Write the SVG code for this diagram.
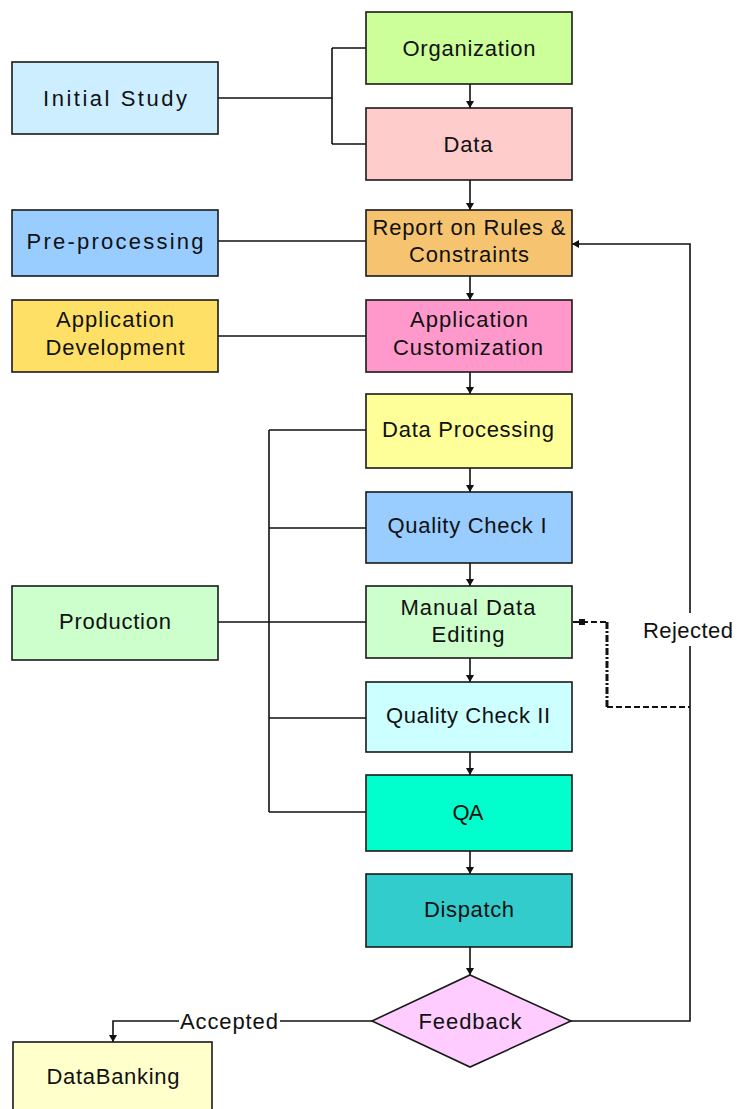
<svg xmlns="http://www.w3.org/2000/svg" width="737" height="1109" viewBox="0 0 737 1109">
<style>
.box{stroke:#1a1a1a;stroke-width:1.6}
.t{font-family:"Liberation Sans",Arial,sans-serif;font-size:22px;fill:#111;text-anchor:middle}
.ln{fill:none;stroke:#111;stroke-width:1.6}
.dash{fill:none;stroke:#111;stroke-width:1.8;stroke-dasharray:6,3}
</style>
<defs>
<marker id="ah" markerUnits="userSpaceOnUse" markerWidth="10" markerHeight="10" refX="7" refY="5" orient="auto">
<path d="M0,1 L7,5 L0,9 Z" fill="#111"/>
</marker>
</defs>
<rect width="737" height="1109" fill="#fff"/>

<g id="connectors">
<path class="ln" d="M218,98 H332 M332,48 V144 M332,48 H366 M332,144 H366"/>
<path class="ln" d="M218,241 H366"/>
<path class="ln" d="M218,336 H366"/>
<path class="ln" d="M218,622 H366 M269,430 V812 M269,430 H366 M269,528 H366 M269,718 H366 M269,812 H366"/>
<path class="ln" marker-end="url(#ah)" d="M470,84 V108"/>
<path class="ln" marker-end="url(#ah)" d="M470,180 V210"/>
<path class="ln" marker-end="url(#ah)" d="M470,276 V300"/>
<path class="ln" marker-end="url(#ah)" d="M470,372 V394"/>
<path class="ln" marker-end="url(#ah)" d="M470,468 V492"/>
<path class="ln" marker-end="url(#ah)" d="M470,563 V586"/>
<path class="ln" marker-end="url(#ah)" d="M470,658 V682"/>
<path class="ln" marker-end="url(#ah)" d="M470,752 V775"/>
<path class="ln" marker-end="url(#ah)" d="M470,851 V874"/>
<path class="ln" marker-end="url(#ah)" d="M470,947 V975"/>
<path class="ln" d="M571,1021 H690 V646"/>
<path class="ln" marker-end="url(#ah)" d="M690,613 V244 H572"/>
<text class="t" x="688" y="638" textLength="90" lengthAdjust="spacing">Rejected</text>
<path class="ln" d="M372,1021 H280"/>
<path class="ln" marker-end="url(#ah)" d="M179,1021 H113 V1042"/>
<text class="t" x="229" y="1029" textLength="98" lengthAdjust="spacing">Accepted</text>
<rect x="579" y="619" width="6" height="6" fill="#111"/>
<path class="dash" d="M573,622 H607"/>
<path fill="none" stroke="#111" stroke-width="3" stroke-dasharray="7,2,2,2" d="M607,622 V707"/>
<path class="dash" d="M607,707 H690"/>
</g>

<g id="organization"><rect class="box" x="366" y="12" width="206" height="72" fill="#CCFF99"/><text class="t" x="469" y="56" textLength="133" lengthAdjust="spacing">Organization</text></g>
<g id="data"><rect class="box" x="366" y="108" width="206" height="72" fill="#FFCCCC"/><text class="t" x="468" y="152" textLength="49" lengthAdjust="spacing">Data</text></g>
<g id="initial-study"><rect class="box" x="12" y="62" width="206" height="72" fill="#CCEEFF"/><text class="t" x="115" y="106" textLength="144" lengthAdjust="spacing">Initial Study</text></g>
<g id="pre-processing"><rect class="box" x="12" y="210" width="206" height="66" fill="#99CCFF"/><text class="t" x="115" y="249" textLength="177" lengthAdjust="spacing">Pre-processing</text></g>
<g id="report"><rect class="box" x="366" y="210" width="206" height="66" fill="#F6C470"/><text class="t" x="469" y="235" textLength="193" lengthAdjust="spacing">Report on Rules &amp;</text><text class="t" x="469" y="262" textLength="120" lengthAdjust="spacing">Constraints</text></g>
<g id="application-development"><rect class="box" x="12" y="300" width="206" height="72" fill="#FFE066"/><text class="t" x="115" y="327" textLength="118" lengthAdjust="spacing">Application</text><text class="t" x="115" y="355" textLength="139" lengthAdjust="spacing">Development</text></g>
<g id="application-customization"><rect class="box" x="366" y="300" width="206" height="72" fill="#FF99CC"/><text class="t" x="469" y="327" textLength="118" lengthAdjust="spacing">Application</text><text class="t" x="468" y="355" textLength="150" lengthAdjust="spacing">Customization</text></g>
<g id="data-processing"><rect class="box" x="366" y="394" width="206" height="74" fill="#FFFF99"/><text class="t" x="468" y="437" textLength="172" lengthAdjust="spacing">Data Processing</text></g>
<g id="quality-check-1"><rect class="box" x="366" y="492" width="206" height="71" fill="#99CCFF"/><text class="t" x="467" y="533" textLength="159" lengthAdjust="spacing">Quality Check I</text></g>
<g id="production"><rect class="box" x="12" y="586" width="206" height="74" fill="#CCFFCC"/><text class="t" x="115" y="629" textLength="112" lengthAdjust="spacing">Production</text></g>
<g id="manual-data-editing"><rect class="box" x="366" y="586" width="206" height="72" fill="#CCFFCC"/><text class="t" x="468" y="615" textLength="135" lengthAdjust="spacing">Manual Data</text><text class="t" x="468" y="642" textLength="73" lengthAdjust="spacing">Editing</text></g>
<g id="quality-check-2"><rect class="box" x="366" y="682" width="206" height="70" fill="#CCFFFF"/><text class="t" x="468" y="723" textLength="164" lengthAdjust="spacing">Quality Check II</text></g>
<g id="qa"><rect class="box" x="366" y="775" width="206" height="76" fill="#00FFCC"/><text class="t" x="468" y="820" textLength="31" lengthAdjust="spacing">QA</text></g>
<g id="dispatch"><rect class="box" x="366" y="874" width="206" height="73" fill="#33CCCC"/><text class="t" x="469" y="917" textLength="90" lengthAdjust="spacing">Dispatch</text></g>
<g id="feedback"><polygon class="box" points="470,975 571,1021 470,1067 372,1021" fill="#FFCCFF"/><text class="t" x="470" y="1029" textLength="103" lengthAdjust="spacing">Feedback</text></g>
<g id="databanking"><rect class="box" x="13" y="1042" width="199" height="75" fill="#FFFFCC"/><text class="t" x="113" y="1084" textLength="133" lengthAdjust="spacing">DataBanking</text></g>
</svg>
